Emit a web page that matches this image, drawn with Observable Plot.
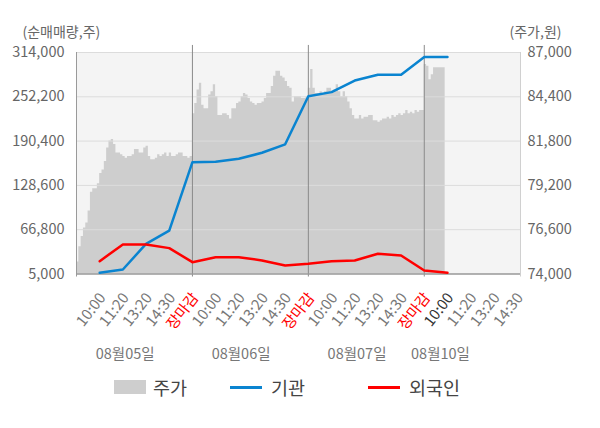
<!DOCTYPE html>
<html>
<head>
<meta charset="utf-8">
<script src="https://cdn.jsdelivr.net/npm/d3@7"></script>
<script src="https://cdn.jsdelivr.net/npm/@observablehq/plot@0.6"></script>
<style>
  html, body { margin: 0; padding: 0; background: #fff; }
  body { width: 600px; height: 428px; position: relative; font-family: "Noto Sans CJK KR", "Noto Sans", sans-serif; overflow: hidden; }
  #legend { position: absolute; left: 0; top: 365px; width: 600px; height: 63px; }
  .item { position: absolute; top: 9px; display: flex; align-items: center; font-size: 18.5px; color: #444; }
  .sw-rect { width: 32px; height: 14px; background: #cecece; margin-right: 7px; }
  .sw-line { width: 32px; height: 3px; margin-right: 9px; }
</style>
</head>
<body>
<div id="chart"></div>
<div id="legend">
  <div class="item" style="left:114px"><div class="sw-rect"></div>주가</div>
  <div class="item" style="left:230px"><div class="sw-line" style="background:#0a84d0"></div>기관</div>
  <div class="item" style="left:368px"><div class="sw-line" style="background:#ff0000"></div>외국인</div>
</div>
<script>
// ---- data ----
const tickLabels = ["10:00","11:20","13:20","14:30","장마감",
                    "10:00","11:20","13:20","14:30","장마감",
                    "10:00","11:20","13:20","14:30","장마감",
                    "10:00","11:20","13:20","14:30"];
const dayLabels = ["08월05일","08월06일","08월07일","08월10일"];
const volumeTicks = [5000, 66800, 128600, 190400, 252200, 314000];
const priceTicks = [74000, 76600, 79200, 81800, 84400, 87000];

// cumulative net purchase (shares), one value per tick time
const institution = [6700, 11300, 47000, 65400, 161000, 161500, 165700, 174100, 185900, 253000, 258700, 274900, 282900, 282900, 307700, 307700];
const foreigner   = [22900, 46300, 46300, 41100, 21500, 28500, 28500, 23900, 16900, 19300, 22900, 23900, 33300, 30900, 9900, 6700];

// intraday price (won), sampled evenly through each session
const priceDay1 = [74700,75600,76200,76700,77000,77700,78800,79000,79000,79300,79900,80100,80600,81400,81800,81900,81600,81100,81100,81000,80900,80800,80900,80900,81000,81300,81300,81100,81100,81400,81500,80900,80700,80700,80800,81000,80900,81000,81100,80900,81100,80900,80900,81000,81100,81100,80900,80900,80800,80900];
const priceDay2 = [83400,84000,84800,85200,83900,83700,83700,84500,84700,85100,84400,83300,83300,83400,83400,83300,83100,83700,83700,84000,84100,84400,84600,84500,84300,84100,84000,83900,84000,84000,84100,84300,84600,84600,85000,85600,85900,85900,85600,85500,85300,85000,84900,84100,84400,84400,84400,84300,84300,84400];
const priceDay3 = [84900,86000,84900,84600,84600,84700,84600,84700,84900,84900,84700,84800,85100,84700,84400,84700,84400,84100,83700,83300,83100,83100,83300,83100,83200,83200,83300,83300,83000,83000,82900,83000,83100,83100,83200,83100,83300,83200,83300,83400,83300,83400,83600,83400,83500,83400,83600,83500,83600,83600];
const priceDay4 = [86300,86200,85400,85700,86100,86100,86100,86100,86100,86200];

// ---- derived tables ----
const priceDays = [priceDay1, priceDay2, priceDay3, priceDay4];
const ticksPerDay = 5;
const samplesPerDay = 50;
const priceRows = priceDays.flatMap((arr, d) =>
  arr.map((p, i) => ({x: d * ticksPerDay - 1 + i * ticksPerDay / samplesPerDay, price: p})));
const toVol = d3.scaleLinear([priceTicks[0], priceTicks[priceTicks.length - 1]],
                             [volumeTicks[0], volumeTicks[volumeTicks.length - 1]]);
const instRows = institution.map((v, i) => ({x: i, v}));
const forRows = foreigner.map((v, i) => ({x: i, v}));
const tickRows = tickLabels.map((t, i) => ({x: i, t}));
const currentIdx = institution.length - 1;
const dividers = [1, 2, 3].map(d => d * ticksPerDay - 1);
const dayRows = dayLabels.map((t, i) => ({t, x: i < 3 ? i * ticksPerDay + 1.1 : currentIdx - 0.3}));
const xMin = -1, xMax = tickLabels.length - 1 + 0.15;
const yMin = volumeTicks[0], yMax = volumeTicks[volumeTicks.length - 1];
const step = (yMax - yMin) / 220;

const font = "Noto Sans CJK KR";
const chart = Plot.plot({
  width: 600,
  height: 365,
  marginLeft: 76,
  marginRight: 80,
  marginTop: 52,
  marginBottom: 91.5,
  style: {fontFamily: font, background: "transparent"},
  x: {domain: [xMin, xMax], axis: null},
  y: {domain: [yMin, yMax], axis: null},
  marks: [
    Plot.frame({fill: "#f4f4f4", stroke: null}),
    Plot.areaY(priceRows, {x: "x", y1: yMin, y2: d => toVol(d.price), fill: "#cecece", curve: "step-after"}),
    Plot.ruleY(volumeTicks.slice(1), {stroke: "#dcdcdc", strokeWidth: 1}),
    Plot.ruleX(dividers, {y1: yMin - 3 * step, y2: yMax + 7 * step, stroke: "#8a8a8a", strokeWidth: 1}),
    Plot.ruleX([xMin], {y1: yMin - 3 * step, y2: yMax, stroke: "#9a9a9a", strokeWidth: 1}),
    Plot.ruleX([xMax], {y1: yMin - 3 * step, y2: yMax, stroke: "#d0d0d0", strokeWidth: 1}),
    Plot.ruleY([yMin], {stroke: "#999", strokeWidth: 1.5}),
    Plot.line(instRows, {x: "x", y: "v", stroke: "#0a84d0", strokeWidth: 2.5}),
    Plot.line(forRows, {x: "x", y: "v", stroke: "#ff0000", strokeWidth: 2.5}),
    Plot.axisY(volumeTicks, {anchor: "left", label: null, tickSize: 0, tickPadding: 12, tickFormat: d3.format(","), fill: "#666", fontSize: 14.5}),
    Plot.axisY(volumeTicks, {anchor: "right", label: null, tickSize: 0, tickPadding: 7,
      tickFormat: d => d3.format(",")(Math.round(toVol.invert(d))), fill: "#666", fontSize: 14.5}),
    Plot.text(tickRows, {x: "x", y: yMin, text: "t", rotate: -52, textAnchor: "end", dx: 3, dy: 21,
      fontSize: 15, fill: d => d.t === "장마감" ? "#ff0000" : (d.x === currentIdx ? "#333" : "#777")}),
    Plot.text(dayRows, {x: "x", y: yMin, text: "t", dy: 80, fill: "#777", fontSize: 14.5}),
    Plot.text(["(순매매량,주)"], {frameAnchor: "top-left", textAnchor: "start", dx: -54, dy: -25, fill: "#666", fontSize: 14}),
    Plot.text(["(주가,원)"], {frameAnchor: "top-right", textAnchor: "start", dx: -11, dy: -25, fill: "#666", fontSize: 14})
  ]
});
document.getElementById("chart").appendChild(chart);
</script>
</body>
</html>
